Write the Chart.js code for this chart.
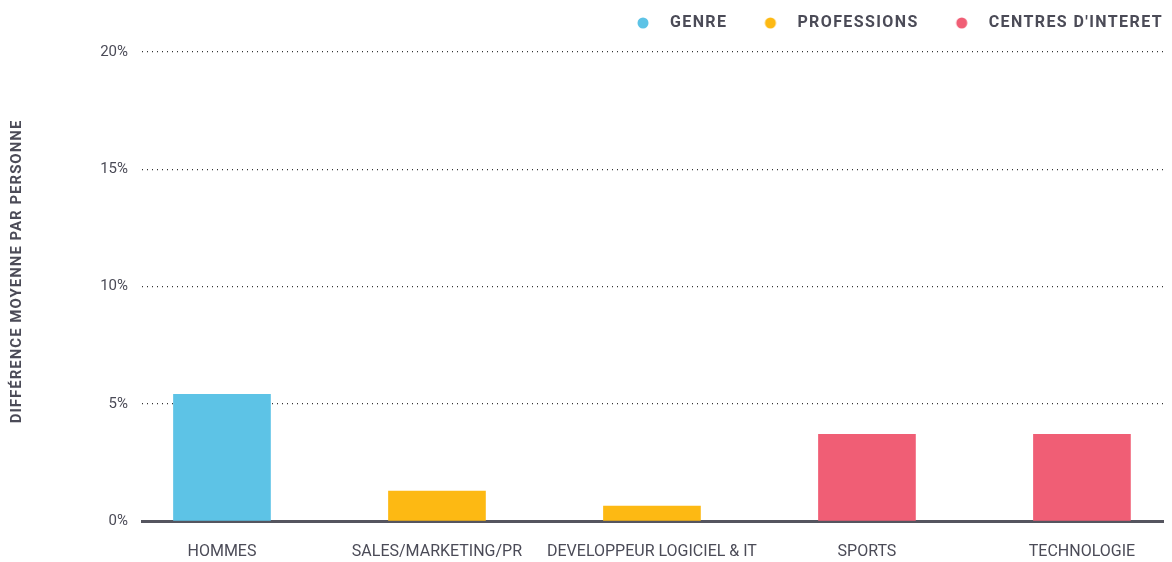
<!DOCTYPE html>
<html>
<head>
<meta charset="utf-8">
<script src="https://cdn.jsdelivr.net/npm/chart.js@4/dist/chart.umd.min.js"></script>
<style>
  html, body { margin: 0; padding: 0; background: #fff; }
  #wrap { width: 1172px; height: 562px; }
</style>
</head>
<body>
<div id="wrap"><canvas id="chart"></canvas></div>
<script>
const categories = ["HOMMES", "SALES/MARKETING/PR", "DEVELOPPEUR LOGICIEL & IT", "SPORTS", "TECHNOLOGIE"];
const seriesNames = ["GENRE", "PROFESSIONS", "CENTRES D'INTÉRÊT"];
const seriesColors = ["#5dc3e6", "#fdb913", "#f05e75"];
// valeurs par série (index de catégorie, valeur en %)
const genreIdx = [0];
const genreVals = [5.4];
const professionsIdx = [1, 2];
const professionsVals = [1.28, 0.64];
const interetsIdx = [3, 4];
const interetsVals = [3.7, 3.7];
const yTicks = [0, 5, 10, 15, 20];

const textColor = "#4b4b57";
Chart.defaults.font.family = "Roboto";

// petit rond décalé pour la légende
function legendDot(color) {
    const c = document.createElement("canvas");
    c.width = 40;
    c.height = 12;
    const g = c.getContext("2d");
    g.fillStyle = color;
    g.beginPath();
    g.arc(32, 6, 5.5, 0, Math.PI * 2);
    g.fill();
    return c;
}

function toPoints(idx, vals) {
    return idx.map((x, i) => ({ x: x, y: vals[i] }));
}

const datasets = [
    toPoints(genreIdx, genreVals),
    toPoints(professionsIdx, professionsVals),
    toPoints(interetsIdx, interetsVals)
].map((data, i) => ({
    label: seriesNames[i],
    data: data,
    backgroundColor: seriesColors[i],
    borderWidth: 0,
    pointStyle: legendDot(seriesColors[i])
}));

// espacement des lettres (légende + titre de l'axe)
function withSpacing(fn, spacing, dy) {
    return function () {
        const ctx = this.ctx;
        const old = ctx.letterSpacing;
        ctx.letterSpacing = spacing;
        ctx.save();
        if (dy) ctx.translate(0, dy);
        const r = fn.apply(this, arguments);
        ctx.restore();
        ctx.letterSpacing = old;
        return r;
    };
}

const tweaks = {
    id: "tweaks",
    afterInit(chart) {
        const legend = chart.legend;
        const fit = legend.fit;
        legend.fit = withSpacing(function () {
            fit.call(this);
            this.height += 11;
        }, "1.4px");
        legend.draw = withSpacing(legend.draw, "1.4px");
    },
    beforeDraw(chart) {
        const y = chart.scales.y;
        if (!y._spaced) {
            y.drawTitle = withSpacing(y.drawTitle, "1px", -15);
            y._spaced = true;
        }
    }
};

new Chart(document.getElementById("chart"), {
    type: "bar",
    data: { datasets: datasets },
    plugins: [tweaks],
    options: {
        responsive: true,
        maintainAspectRatio: false,
        animation: false,
        layout: { padding: { left: 0, right: 9, top: 15, bottom: 0 } },
        datasets: { bar: { barThickness: 97, grouped: false } },
        plugins: {
            tooltip: { enabled: false },
            legend: {
                position: "top",
                align: "end",
                labels: {
                    usePointStyle: true,
                    pointStyleWidth: 62,
                    padding: 0,
                    color: textColor,
                    font: { size: 16, weight: "bold" }
                }
            }
        },
        scales: {
            x: {
                type: "linear",
                offset: false,
                min: -0.372,
                max: 4.377,
                afterBuildTicks: (scale) => {
                    scale.ticks = categories.map((c, i) => ({ value: i }));
                },
                afterFit: (scale) => { scale.height = 41; },
                ticks: {
                    autoSkip: false,
                    maxRotation: 0,
                    padding: 21,
                    color: textColor,
                    font: { size: 16 },
                    callback: (v) => categories[v]
                },
                grid: { display: false, drawTicks: false, offset: false },
                border: { display: true, color: "#55555f", width: 3 }
            },
            y: {
                min: 0,
                max: 20,
                afterBuildTicks: (scale) => {
                    scale.ticks = yTicks.map(v => ({ value: v }));
                },
                afterFit: (scale) => { scale.width = 142; },
                ticks: {
                    padding: 14,
                    color: textColor,
                    font: { size: 15 },
                    callback: (v) => v + "%"
                },
                grid: {
                    color: "#333",
                    lineWidth: 1.2,
                    drawTicks: false
                },
                border: { display: false, dash: [1, 4] },
                title: {
                    display: true,
                    text: "DIFFÉRENCE MOYENNE PAR PERSONNE",
                    color: textColor,
                    font: { size: 15, weight: "bold" },
                    padding: { top: 8, bottom: 0 }
                }
            }
        }
    }
});
</script>
</body>
</html>
